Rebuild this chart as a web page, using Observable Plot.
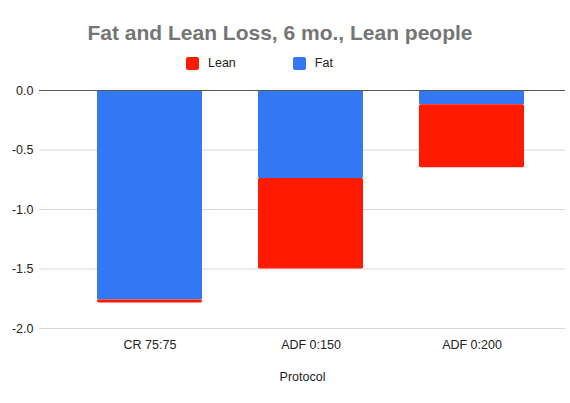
<!DOCTYPE html>
<html>
<head>
<meta charset="utf-8">
<script src="https://cdn.jsdelivr.net/npm/d3@7"></script>
<script src="https://cdn.jsdelivr.net/npm/@observablehq/plot@0.6"></script>
<style>
  body { margin: 0; background: #fff; font-family: "Liberation Sans", Arial, sans-serif; }
  #wrap { position: relative; width: 570px; height: 403px; }
  #title { position: absolute; top: 21px; left: 0; width: 560px; text-align: center;
    font-size: 21px; font-weight: bold; color: #757575; line-height: 24px; }
  #legend { position: absolute; top: 55px; left: 186px; font-size: 12.5px; color: #222;
    display: flex; align-items: center; line-height: 16px; }
  .sw { width: 13px; height: 13px; border-radius: 2px; display: inline-block; margin-right: 9px; }
  #chart { position: absolute; top: 75px; left: 0; }
</style>
</head>
<body>
<div id="wrap">
  <div id="title">Fat and Lean Loss, 6 mo., Lean people</div>
  <div id="legend"></div>
  <div id="chart"></div>
</div>
<script>
const protocols = ["CR 75:75", "ADF 0:150", "ADF 0:200"]
const series = ["Fat", "Lean"]
const fat = [-1.76, -0.74, -0.12]
const lean = [-0.025, -0.76, -0.53]
const colors = {Fat: "#3478f6", Lean: "#ff1a00"}
const yTicks = [0, -0.5, -1, -1.5, -2]

// long table for stacking: fat first from 0, then lean below
let data = []
protocols.forEach((p, i) => {
  data.push({protocol: p, series: "Fat", value: fat[i]})
  data.push({protocol: p, series: "Lean", value: lean[i]})
})

// legend (Lean first, like the original)
d3.select('#legend').selectAll('span.item')
  .data(["Lean", "Fat"])
  .join('span')
  .attr('class', 'item')
  .style('display', 'inline-flex')
  .style('align-items', 'center')
  .style('margin-right', (d, i) => i == 0 ? '57px' : '0')
  .html(d => `<span class="sw" style="background:${colors[d]}"></span>${d}`)

let chart = Plot.plot({
  width: 570,
  height: 328,
  marginTop: 15,
  marginBottom: 75,
  marginLeft: 39,
  marginRight: 5,
  style: {fontFamily: '"Liberation Sans", Arial, sans-serif', fontSize: "12.5px", color: "#222"},
  x: {domain: protocols, padding: 0.35, paddingOuter: 0.3, align: 0.58, label: null},
  y: {domain: [-2, 0], label: null},
  color: {domain: series, range: series.map(s => colors[s])},
  marks: [
    Plot.ruleY(yTicks.filter(d => d != 0), {stroke: "#d9d9d9"}),
    Plot.barY(data, Plot.stackY({order: series}, {
      x: "protocol", y: "value", z: "series", fill: "series", rx: 1.5
    })),
    Plot.ruleY([0], {stroke: "#555"}),
    Plot.axisY({ticks: yTicks, tickSize: 0, tickPadding: 6, tickFormat: d => d.toFixed(1), label: null}),
    Plot.axisX({tickSize: 0, tickPadding: 12, label: null}),
    Plot.text(["Protocol"], {frameAnchor: "bottom", dy: 52, fill: "#222"})
  ]
})

d3.select('#chart').append(() => chart)
</script>
</body>
</html>
